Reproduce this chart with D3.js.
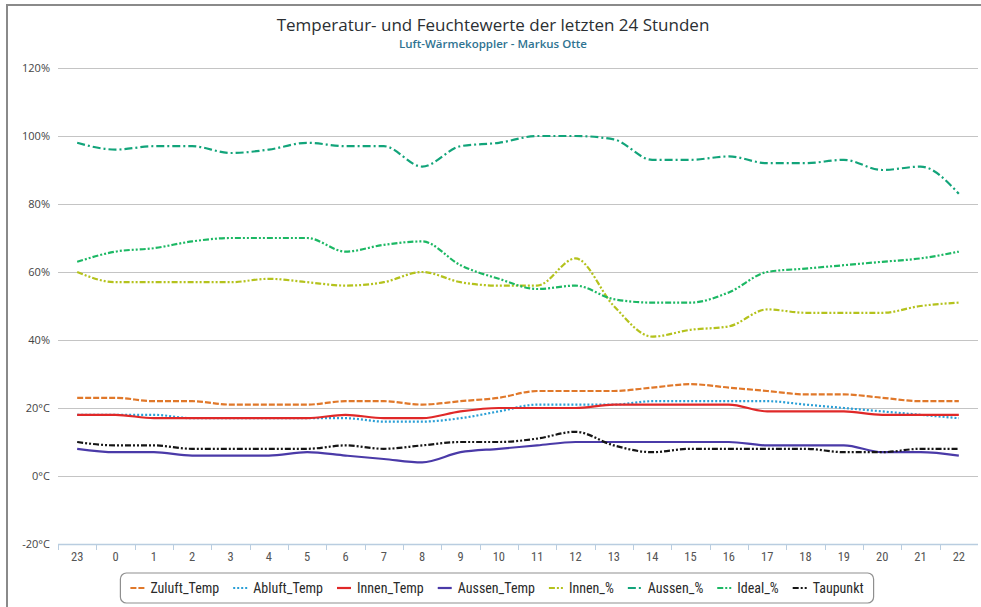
<!DOCTYPE html>
<html>
<head>
<meta charset="utf-8">
<script src="https://cdn.jsdelivr.net/npm/d3@7/dist/d3.min.js"></script>
<style>
  html, body { margin: 0; padding: 0; background: #fff; }
  svg { display: block; }
</style>
</head>
<body>
<svg id="chart" width="981" height="607"></svg>
<script>
// Hour labels of the last 24 hours
const hours = ["23","0","1","2","3","4","5","6","7","8","9","10","11","12","13","14","15","16","17","18","19","20","21","22"];

// Temperatures (°C)
const zuluftTemp = [23,23,22,22,21,21,21,22,22,21,22,23,25,25,25,26,27,26,25,24,24,23,22,22];
const abluftTemp = [18,18,18,17,17,17,17,17,16,16,17,19,21,21,21,22,22,22,22,21,20,19,18,17];
const innenTemp  = [18,18,17,17,17,17,17,18,17,17,19,20,20,20,21,21,21,21,19,19,19,18,18,18];
const aussenTemp = [8,7,7,6,6,6,7,6,5,4,7,8,9,10,10,10,10,10,9,9,9,7,7,6];
const taupunkt   = [10,9,9,8,8,8,8,9,8,9,10,10,11,13,9,7,8,8,8,8,7,7,8,8];

// Humidity (%)
const innenHum  = [60,57,57,57,57,58,57,56,57,60,57,56,56,64,50,41,43,44,49,48,48,48,50,51];
const aussenHum = [98,96,97,97,95,96,98,97,97,91,97,98,100,100,99,93,93,94,92,92,93,90,91,83];
const idealHum  = [63,66,67,69,70,70,70,66,68,69,62,58,55,56,52,51,51,54,60,61,62,63,64,66];

// Axis ticks
const yTicks = [-20,0,20,40,60,80,100,120];
const yTickLabels = ["-20°C","0°C","20°C","40%","60%","80%","100%","120%"];

const seriesNames  = ["Zuluft_Temp","Abluft_Temp","Innen_Temp","Aussen_Temp","Innen_%","Aussen_%","Ideal_%","Taupunkt"];
const seriesValues = [zuluftTemp, abluftTemp, innenTemp, aussenTemp, innenHum, aussenHum, idealHum, taupunkt];
const seriesColors = ["#e0782a","#2a9fd6","#e02828","#4a3aa8","#b4c21c","#12a47a","#1cb864","#151515"];
const seriesDash   = ["6,2","2,2",null,null,"6,2,2,2,2,2","8,3,2,3","6,2,2,2,2,2","6,2,2,2,2,2"];

const svg = d3.select("#chart");
const W = 981, H = 607;
const plot = { left: 58, right: 978, top: 68, bottom: 544 };

const condensed = "'Liberation Sans Narrow','Roboto Condensed','Arial Narrow','Open Sans',sans-serif";

// outer frame (top and left edges)
svg.append("path")
  .attr("d", `M7,${H} L7,5 L${W},5`)
  .attr("fill", "none")
  .attr("stroke", "#8a8a8a")
  .attr("stroke-width", 2);

// title and subtitle
svg.append("text")
  .attr("x", 493).attr("y", 31)
  .attr("text-anchor", "middle")
  .attr("font-family", "'Open Sans', sans-serif")
  .attr("font-size", 17)
  .attr("fill", "#2b2f33")
  .text("Temperatur- und Feuchtewerte der letzten 24 Stunden");

svg.append("text")
  .attr("x", 493).attr("y", 48)
  .attr("text-anchor", "middle")
  .attr("font-family", "'Open Sans', sans-serif")
  .attr("font-size", 11.5)
  .attr("font-weight", 600)
  .attr("fill", "#2f7391")
  .text("Luft-Wärmekoppler - Markus Otte");

// scales
const x = d3.scaleBand().domain(hours).range([plot.left, plot.right]).paddingInner(0).paddingOuter(0);
const y = d3.scaleLinear().domain([-20, 120]).range([plot.bottom, plot.top]);
const cx = h => x(h) + x.bandwidth() / 2;

// horizontal grid lines
svg.append("g")
  .selectAll("line")
  .data(yTicks.filter(v => v > -20))
  .join("line")
  .attr("x1", plot.left).attr("x2", plot.right)
  .attr("y1", d => Math.round(y(d)) + 0.5).attr("y2", d => Math.round(y(d)) + 0.5)
  .attr("stroke", "#c4c4c4")
  .attr("stroke-width", 1.2);

// y axis labels
const yAxis = d3.axisLeft(y)
  .tickValues(yTicks)
  .tickFormat((d, i) => yTickLabels[i])
  .tickSize(0)
  .tickPadding(8);
const gy = svg.append("g").attr("transform", `translate(${plot.left},0)`).call(yAxis);
gy.select(".domain").remove();
gy.selectAll("text")
  .attr("font-family", "'Open Sans', sans-serif")
  .attr("font-size", 11)
  .attr("fill", "#444");

// x axis with ticks between categories
const gx = svg.append("g").attr("transform", `translate(0,${plot.bottom})`);
gx.append("line")
  .attr("x1", plot.left).attr("x2", plot.right)
  .attr("y1", 0.5).attr("y2", 0.5)
  .attr("stroke", "#b9cde0").attr("stroke-width", 1.5);
gx.selectAll("line.tick")
  .data(hours)
  .join("line")
  .attr("class", "tick")
  .attr("x1", d => Math.round(x(d)) + 0.5).attr("x2", d => Math.round(x(d)) + 0.5)
  .attr("y1", 0).attr("y2", 6)
  .attr("stroke", "#b9cde0");
gx.selectAll("text")
  .data(hours)
  .join("text")
  .attr("x", d => cx(d))
  .attr("y", 17)
  .attr("text-anchor", "middle")
  .attr("font-family", condensed)
  .attr("font-size", 12.5)
  .attr("fill", "#555")
  .text(d => d);

// series lines
const line = d3.line()
  .x((d, i) => cx(hours[i]))
  .y(d => y(d))
  .curve(d3.curveMonotoneX);

svg.append("g")
  .selectAll("path")
  .data(seriesValues)
  .join("path")
  .attr("d", d => line(d))
  .attr("fill", "none")
  .attr("stroke", (d, i) => seriesColors[i])
  .attr("stroke-width", 2.2)
  .attr("stroke-dasharray", (d, i) => seriesDash[i])
  .attr("stroke-linejoin", "round");

// legend
const legend = svg.append("g");
const legendBox = legend.append("rect")
  .attr("rx", 6).attr("ry", 6)
  .attr("fill", "#fff")
  .attr("stroke", "#8f8f8f")
  .attr("stroke-width", 1.2);

const items = legend.append("g");
let lx = 0;
seriesNames.forEach((name, i) => {
  const it = items.append("g").attr("transform", `translate(${lx},0)`);
  it.append("line")
    .attr("x1", 0).attr("x2", 14)
    .attr("y1", 0).attr("y2", 0)
    .attr("stroke", seriesColors[i])
    .attr("stroke-width", 2.2)
    .attr("stroke-dasharray", seriesDash[i]);
  const t = it.append("text")
    .attr("x", 20).attr("y", 5)
    .attr("font-family", condensed)
    .attr("font-size", 14)
    .attr("fill", "#2a2a2a")
    .text(name);
  lx += 20 + t.node().getComputedTextLength() + 14;
});
const contentW = lx - 14;
const boxW = contentW + 20;
const boxX = 497 - boxW / 2;
legendBox.attr("x", boxX).attr("y", 573).attr("width", boxW).attr("height", 30);
items.attr("transform", `translate(${boxX + 10},588)`);
</script>
</body>
</html>
